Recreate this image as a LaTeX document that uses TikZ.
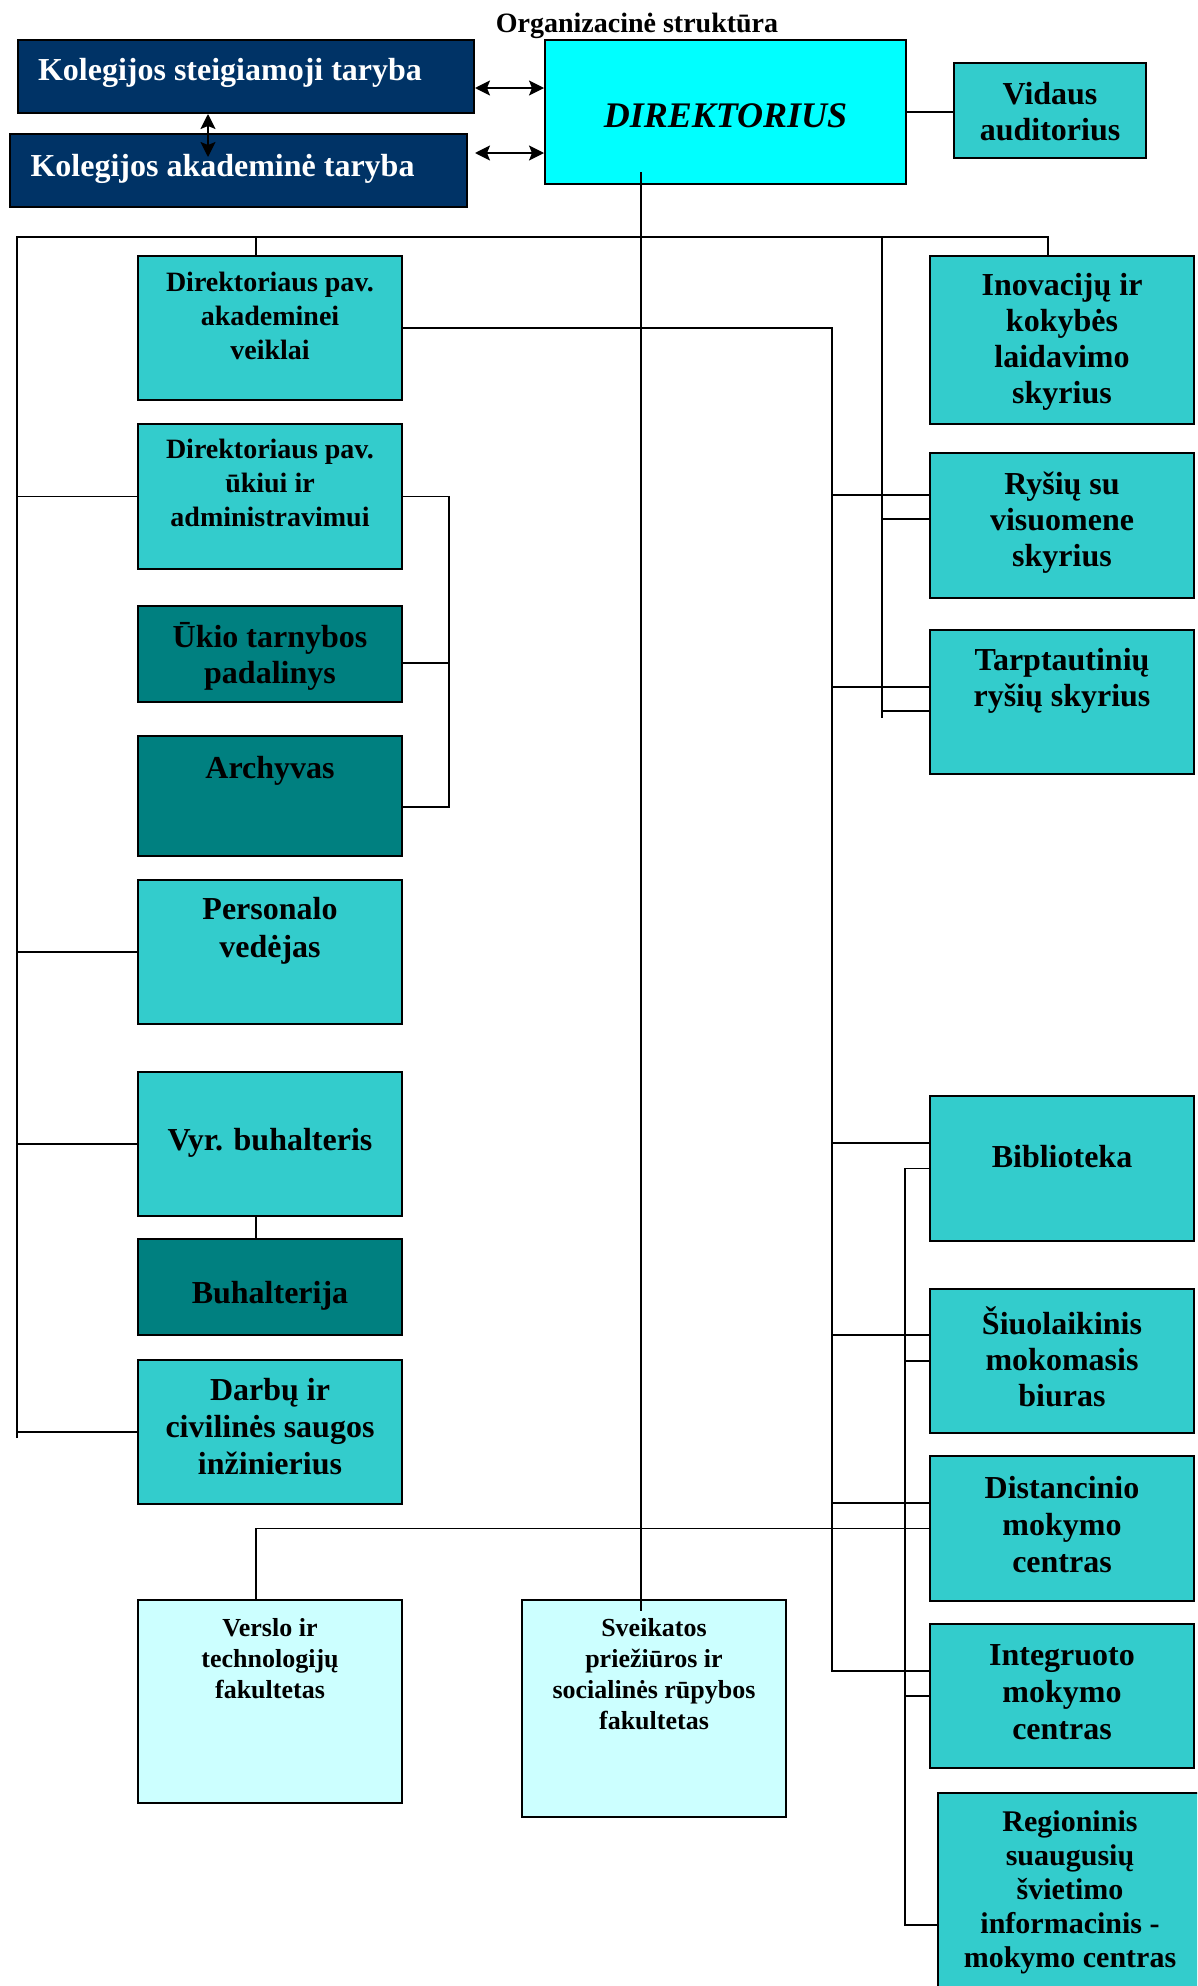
\documentclass[tikz,border=0pt]{standalone}
\usepackage{fontspec}
\setmainfont{Liberation Serif}
\usetikzlibrary{positioning}
\usetikzlibrary{arrows.meta}
\definecolor{mnavy}{rgb}{0, 0.2, 0.4}
\definecolor{mcyan}{rgb}{0, 1, 1}
\definecolor{mteal}{rgb}{0.2, 0.8, 0.8}
\definecolor{mdark}{rgb}{0, 0.5, 0.5}
\definecolor{mlight}{rgb}{0.8, 1, 1}
\tikzset{box/.style = {draw, line width = 2pt, anchor = north west, inner sep = 0, minimum width = 264pt}}
\tikzset{txt/.style = {align = center, inner sep = 0, font = \bfseries\fontsize{32}{36}\selectfont}}
\tikzset{small/.style = {font = \bfseries\fontsize{28}{34}\selectfont}}
\tikzset{fac/.style = {font = \bfseries\fontsize{26}{31}\selectfont}}
\tikzset{conn/.style = {line width = 1.3pt}}
\tikzset{dbl/.style = {line width = 1.6pt, {Stealth[length=15pt, width=15pt, inset=3pt]}-{Stealth[length=15pt, width=15pt, inset=3pt]}}}

\begin{document}
\begin{tikzpicture}[x=1pt, y=-1pt]
    \useasboundingbox (0,0) rectangle (1197,1986);
    \clip (0,0) rectangle (1197,1986);

    \node [txt, font=\bfseries\fontsize{28}{32}\selectfont, anchor=base] (title) at (637,32) {Organizacinė struktūra};

    % top row
    \node [box, fill=mnavy, minimum width=456pt, minimum height=73pt] (steig) at (17,39) {};
    \node [box, fill=mnavy, minimum width=457pt, minimum height=73pt] (akad) at (9,133) {};
    \node [box, fill=mcyan, minimum width=361pt, minimum height=144pt] (dir) at (544,39) {};
    \node [box, fill=mteal, minimum width=192pt, minimum height=95pt] (vid) at (953,62) {};
    \node [txt, text=white, below=19pt of steig.north, xshift=-16pt] (steigT) {Kolegijos steigiamoji taryba};
    \node [txt, text=white, below=21pt of akad.north, xshift=-16pt] (akadT) {Kolegijos akademinė taryba};
    \node [txt, font=\bfseries\itshape\fontsize{36}{40}\selectfont, below=64pt of dir.north] (dirT) {DIREKTORIUS};
    \node [txt, below=20pt of vid.north] (vidT) {Vidaus\\auditorius};

    % left column
    \node [box, fill=mteal, minimum height=144pt] (dpa) at (137,255) {};
    \node [box, fill=mteal, minimum height=145pt] (dpu) at (137,423) {};
    \node [box, fill=mdark, minimum height=96pt] (ukis) at (137,605) {};
    \node [box, fill=mdark, minimum height=120pt] (arch) at (137,735) {};
    \node [box, fill=mteal, minimum height=144pt] (pers) at (137,879) {};
    \node [box, fill=mteal, minimum height=144pt] (vyr) at (137,1071) {};
    \node [box, fill=mdark, minimum height=96pt] (buh) at (137,1238) {};
    \node [box, fill=mteal, minimum height=144pt] (darb) at (137,1359) {};
    \node [txt, small, below=17pt of dpa.north] (dpaT) {Direktoriaus pav.\\akademinei\\veiklai};
    \node [txt, small, below=16pt of dpu.north] (dpuT) {Direktoriaus pav.\\ūkiui ir\\administravimui};
    \node [txt, below=17pt of ukis.north] (ukisT) {Ūkio tarnybos\\padalinys};
    \node [txt, below=21pt of arch.north] (archT) {Archyvas};
    \node [txt, font=\bfseries\fontsize{32}{38}\selectfont, below=18pt of pers.north] (persT) {Personalo\\vedėjas};
    \node [txt, below=57pt of vyr.north] (vyrT) {Vyr. buhalteris};
    \node [txt, below=43pt of buh.north] (buhT) {Buhalterija};
    \node [txt, font=\bfseries\fontsize{32}{37}\selectfont, below=19pt of darb.north] (darbT) {Darbų ir\\civilinės saugos\\inžinierius};

    % faculties
    \node [box, fill=mlight, minimum height=203pt] (vers) at (137,1599) {};
    \node [box, fill=mlight, minimum height=217pt] (sveik) at (521,1599) {};
    \node [txt, fac, below=19pt of vers.north] (versT) {Verslo ir\\technologijų\\fakultetas};
    \node [txt, fac, below=19pt of sveik.north] (sveikT) {Sveikatos\\priežiūros ir\\socialinės rūpybos\\fakultetas};

    % right column
    \node [box, fill=mteal, minimum height=168pt] (inov) at (929,255) {};
    \node [box, fill=mteal, minimum height=145pt] (rysv) at (929,452) {};
    \node [box, fill=mteal, minimum height=144pt] (tarp) at (929,629) {};
    \node [box, fill=mteal, minimum height=145pt] (bibl) at (929,1095) {};
    \node [box, fill=mteal, minimum height=144pt] (siuol) at (929,1288) {};
    \node [box, fill=mteal, minimum height=145pt] (dist) at (929,1455) {};
    \node [box, fill=mteal, minimum height=144pt] (integ) at (929,1623) {};
    \node [box, fill=mteal, minimum height=240pt] (reg) at (937,1792) {};
    \node [txt, below=18pt of inov.north] (inovT) {Inovacijų ir\\kokybės\\laidavimo\\skyrius};
    \node [txt, below=20pt of rysv.north] (rysvT) {Ryšių su\\visuomene\\skyrius};
    \node [txt, below=19pt of tarp.north] (tarpT) {Tarptautinių\\ryšių skyrius};
    \node [txt, below=50pt of bibl.north] (biblT) {Biblioteka};
    \node [txt, below=19pt of siuol.north] (siuolT) {Šiuolaikinis\\mokomasis\\biuras};
    \node [txt, font=\bfseries\fontsize{32}{37}\selectfont, below=21pt of dist.north] (distT) {Distancinio\\mokymo\\centras};
    \node [txt, font=\bfseries\fontsize{32}{37}\selectfont, below=21pt of integ.north] (integT) {Integruoto\\mokymo\\centras};
    \node [txt, font=\bfseries\fontsize{30}{34}\selectfont, below=18pt of reg.north] (regT) {Regioninis\\suaugusių\\švietimo\\informacinis -\\mokymo centras};

    % links of the councils and the director
    \coordinate (akadIn) at (208,157);
    \draw [dbl] (steig.east |- 0,88) -- (dir.west |- 0,88);
    \draw [dbl] (steig.east |- 0,153) -- (dir.west |- 0,153);
    \draw [dbl] (steig.south -| 208,0) -- (akadIn);
    \draw [conn] (dir.east) -- (vid.west |- dir.east);

    % main bus
    \coordinate (dirFoot) at (641,172);
    \coordinate (sveikIn) at (641,1611);
    \coordinate (busL) at (17,237);
    \coordinate (busR) at (1048,237);
    \draw [conn] (dirFoot) -- (sveikIn);
    \draw [conn] (17,1438) -- (busL) -- (busR) -- (busR |- inov.north);
    \draw [conn] (256,237) -- (dpa.north -| 256,0);
    \foreach \n in {dpu, pers, vyr, darb}
      \draw [conn] (\n.west) -- (\n.west -| busL);
    \draw [conn] (882,237) -- (882,718);
    \draw [conn] (882,519) -- (rysv.west |- 0,519);
    \draw [conn] (882,711) -- (tarp.west |- 0,711);

    % deputies
    \draw [conn] (dpa.east) -| (832,1671) -- (integ.west |- 0,1671);
    \foreach \n/\y in {rysv/495, tarp/687, bibl/1143, siuol/1335, dist/1503}
      \draw [conn] (832,\y) -- (\n.west |- 0,\y);
    \draw [conn] (dpu.east) -| (449,807) -- (arch.east |- 0,807);
    \draw [conn] (449,663) -- (ukis.east |- 0,663);
    \draw [conn] (vyr.south -| 256,0) -- (buh.north -| 256,0);

    % study units
    \draw [conn] (bibl.west) -| (905,1925) -- (reg.west |- 0,1925);
    \foreach \n in {siuol, integ}
      \draw [conn] (\n.west -| 905,0) -- (\n.west);
    \draw [conn] (dist.west) -| (vers.north -| 256,0);
  \end{tikzpicture}
\end{document}
